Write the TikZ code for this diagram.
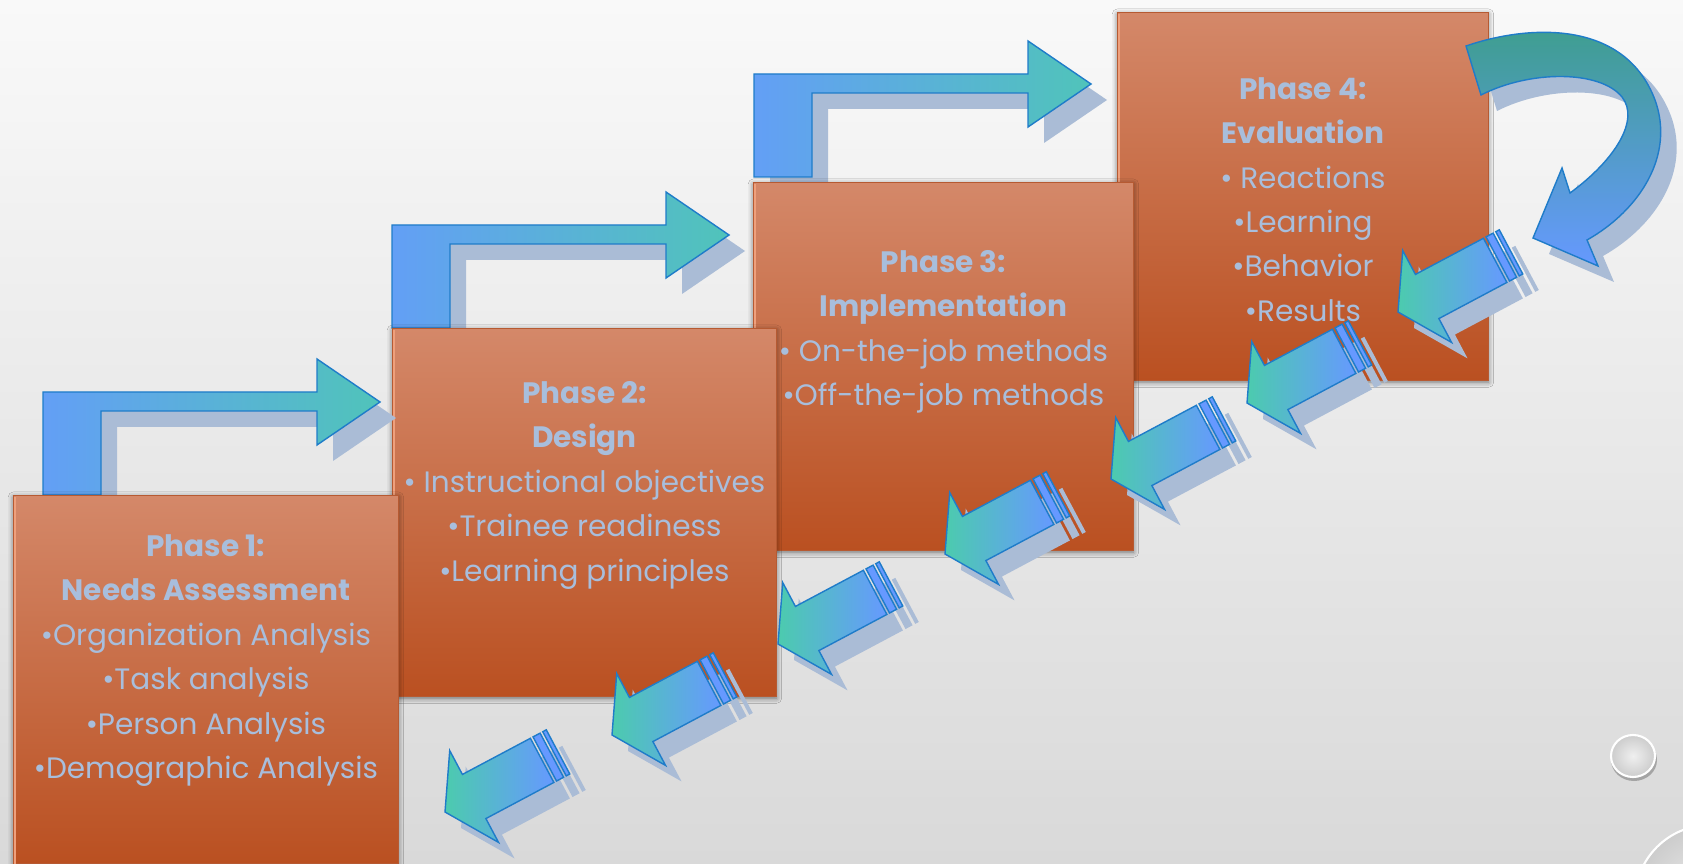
\documentclass[tikz,border=0pt]{standalone}
\usepackage{fontspec}
\setmainfont{Poppins}
\usepackage{tikz}
\usetikzlibrary{calc,shadows.blur}

\definecolor{bgLight}{HTML}{F9F9F9}
\definecolor{bgDark}{HTML}{D9D9D9}
\definecolor{boxTop}{HTML}{D48869}
\definecolor{boxBottom}{HTML}{BA5021}
\definecolor{boxEdge}{HTML}{B65A32}
\definecolor{boxLight}{HTML}{EFA07C}
\definecolor{phaseText}{HTML}{A8BEDC}
\definecolor{arrowBlue}{HTML}{6699FF}
\definecolor{arrowGreen}{HTML}{4CCBAE}
\definecolor{arrowLine}{HTML}{1F7CC9}
\definecolor{arrowShadow}{HTML}{AABCD6}
\definecolor{curlTeal}{HTML}{3D9E8C}

%% blue stem, then fading into green towards the head
\pgfdeclarehorizontalshading{bentfade}{100bp}{color(0bp)=(arrowBlue); color(17bp)=(arrowBlue); color(85bp)=(arrowGreen); color(100bp)=(arrowGreen)}

%% outlines of the arrows (pixel units)
\newcommand{\bentpath}{(0,0) -- (0,-103) -- (274,-103) -- (274,-136) -- (337,-93)
  -- (274,-50) -- (274,-84) -- (58,-84) -- (58,0) -- cycle}
\newcommand{\stripedpath}{(0,0) -- (-33,52) -- (-33,25) -- (-110,25) -- (-110,-25)
  -- (-33,-25) -- (-33,-52) -- cycle}
\newcommand{\curlpath}{(1466,46) .. controls (1530,24) and (1625,20) .. (1655,100)
  .. controls (1675,155) and (1640,210) .. (1587,240) -- (1598,266) -- (1533,238)
  -- (1562,168) -- (1570,193) .. controls (1615,160) and (1640,120) .. (1622,97)
  .. controls (1600,70) and (1530,70) .. (1481,95) -- cycle}

\begin{document}
\begin{tikzpicture}[x=0.02cm,y=-0.02cm,
    phasebox/.style={anchor=north west, inner sep=0pt, draw=boxEdge, line width=0.5pt,
      top color=boxTop, bottom color=boxBottom,
      blur shadow={shadow xshift=0pt, shadow yshift=-1pt, shadow blur radius=3pt, shadow opacity=55}},
    phasetext/.style={anchor=north, inner sep=0pt, align=center, text=phaseText,
      font=\fontsize{16.8}{25.3}\selectfont},
    arrowedge/.style={draw=arrowLine, line width=0.8pt, line join=miter},
    arrowshade/.style={fill=arrowShadow}]

  %% Background
  \useasboundingbox (0,0) rectangle (1683,864);
  \shade[top color=bgLight, bottom color=bgDark] (0,0) rectangle (1683,864);

  %% Phase boxes from the back (phase 4) to the front (phase 1),
  %% each with the bent arrow that climbs out of its top edge
  \foreach \n/\bx/\by/\bw/\ax/\ay in {4/1117/12/371/0/0,
                                      3/753/182/380/754/177,
                                      2/392/328/384/392/328,
                                      1/13/495/385/43/495}
  {
    \ifnum\n<4
      \begin{scope}[shift={(\ax+16,\ay+16)}]
        \fill[arrowshade] \bentpath;
      \end{scope}
      \begin{scope}[shift={(\ax,\ay)}]
        \shadedraw[shading=bentfade, arrowedge] \bentpath;
      \end{scope}
    \fi
    \node[phasebox, minimum width=\bw*0.02cm, minimum height=7.36cm] (PH\n) at (\bx,\by) {};
    \draw[boxLight, line width=1.2pt] ($(PH\n.south west)+(2,0)$) -- ($(PH\n.north west)+(2,2)$);
  }

  %% Contents of the phases
  \node[phasetext] (T1) at ($(PH1.north)+(0,39)$)
    {\textbf{Phase 1:}\\ \textbf{Needs Assessment}\\ •Organization Analysis\\
     •Task analysis\\ •Person Analysis\\ •Demographic Analysis};
  \node[phasetext] (T2) at ($(PH2.north)+(0,53)$)
    {\textbf{Phase 2:}\\ \textbf{Design}\\ • Instructional objectives\\
     •Trainee readiness\\ •Learning principles};
  \node[phasetext] (T3) at ($(PH3.north)+(0,68)$)
    {\textbf{Phase 3:}\\ \textbf{Implementation}\\ • On-the-job methods\\
     •Off-the-job methods};
  \node[phasetext] (T4) at ($(PH4.north)+(0,65)$)
    {\textbf{Phase 4:}\\ \textbf{Evaluation}\\ • Reactions\\ •Learning\\
     •Behavior\\ •Results};

  %% Curved arrow turning back from the last phase
  \fill[arrowshade, shift={(16,16)}] \curlpath;
  \shadedraw[top color=curlTeal, bottom color=arrowBlue, arrowedge] \curlpath;

  %% Striped arrows running back down the steps
  \foreach \tx/\ty in {1398/312, 1247/403, 1111/479, 945/554, 778/644, 612/735, 445/812}
  {
    \begin{scope}[shift={(\tx+16,\ty+16)}, rotate=208]
      \fill[arrowshade] \stripedpath;
      \fill[arrowshade] (-121,-25) rectangle (-113,25) (-128,-25) rectangle (-124,25);
    \end{scope}
    \begin{scope}[shift={(\tx,\ty)}, rotate=208]
      \shadedraw[left color=arrowGreen, right color=arrowBlue, arrowedge] \stripedpath;
      \filldraw[fill=arrowBlue, arrowedge] (-121,-25) rectangle (-113,25);
      \filldraw[fill=arrowBlue, arrowedge] (-128,-25) rectangle (-124,25);
    \end{scope}
  }

  %% Glass buttons in the corner
  \fill[black, opacity=.25] (1634,760) circle [x radius=23, y radius=21];
  \shade[inner color=gray!12, outer color=gray!40, draw=white, line width=1.2pt]
    (1633,756) circle [x radius=22, y radius=21];
  \shade[inner color=gray!12, outer color=gray!40, draw=white, line width=1.2pt]
    (1710,900) circle [radius=75];
\end{tikzpicture}
\end{document}
